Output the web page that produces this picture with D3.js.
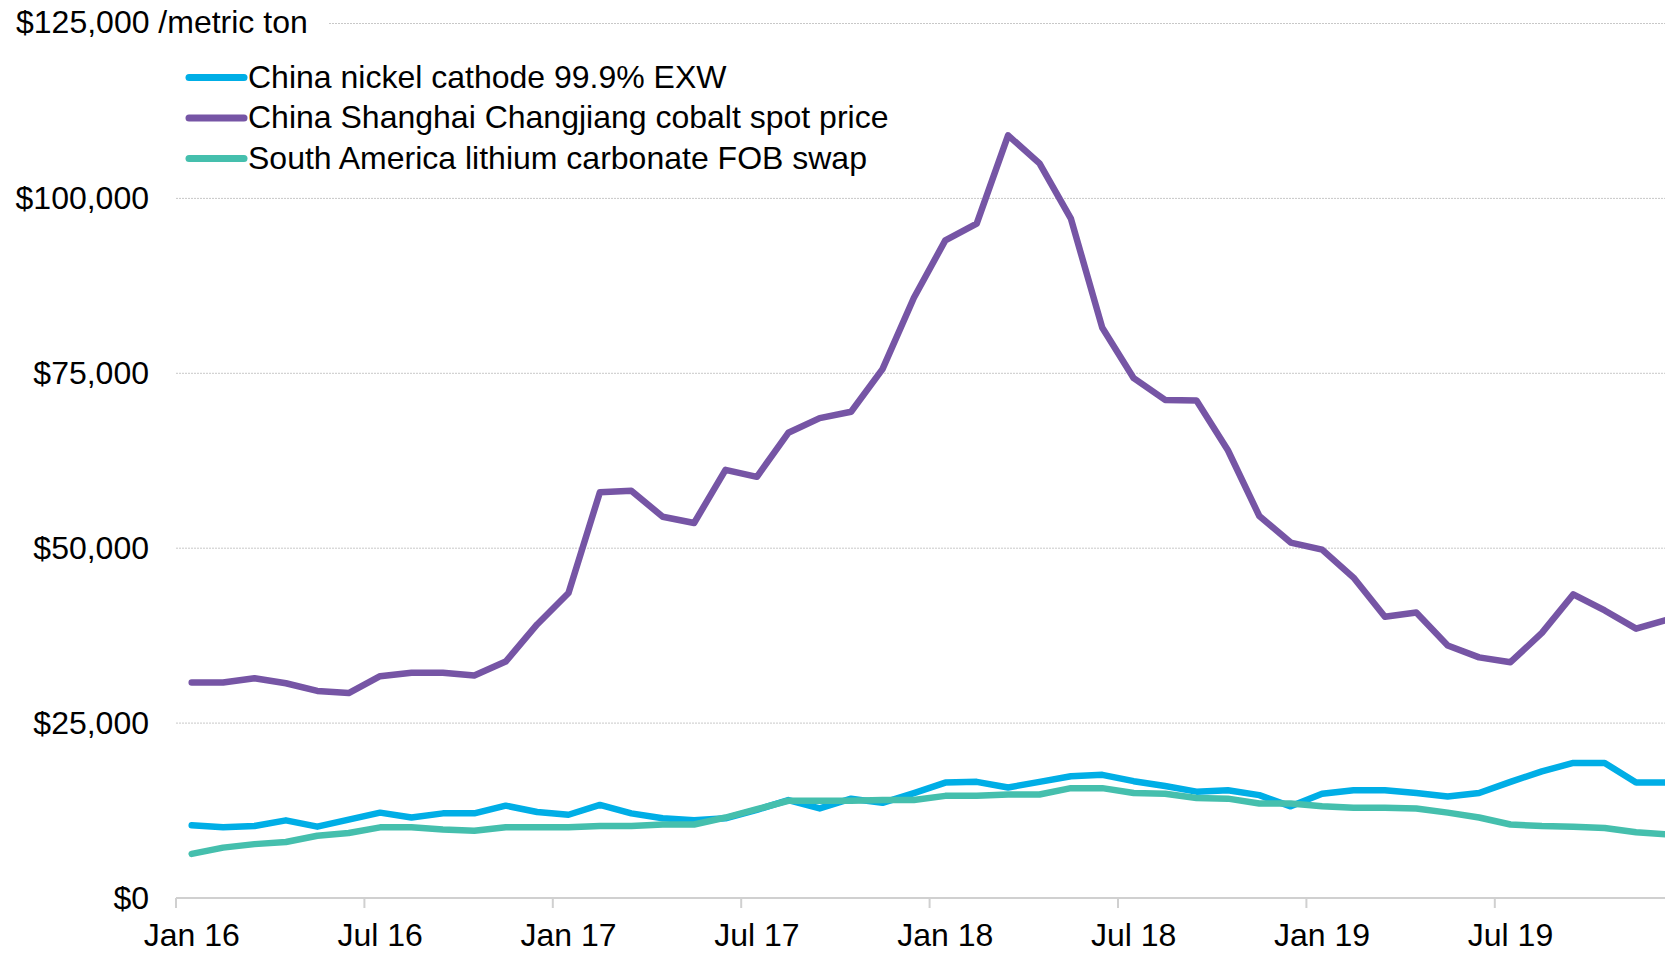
<!DOCTYPE html>
<html>
<head>
<meta charset="utf-8">
<script src="https://cdn.jsdelivr.net/npm/d3@7"></script>
<style>
  html, body { margin: 0; padding: 0; background: #ffffff; }
  svg { display: block; font-family: "Liberation Sans", Arial, sans-serif; }
</style>
</head>
<body>
<svg id="chart" width="1665" height="953"></svg>
<script>
// Monthly battery-metal prices, Jan 2016 – Dec 2019 (US$ per metric ton)
const months = [
  "Jan 16","Feb 16","Mar 16","Apr 16","May 16","Jun 16","Jul 16","Aug 16","Sep 16","Oct 16","Nov 16","Dec 16",
  "Jan 17","Feb 17","Mar 17","Apr 17","May 17","Jun 17","Jul 17","Aug 17","Sep 17","Oct 17","Nov 17","Dec 17",
  "Jan 18","Feb 18","Mar 18","Apr 18","May 18","Jun 18","Jul 18","Aug 18","Sep 18","Oct 18","Nov 18","Dec 18",
  "Jan 19","Feb 19","Mar 19","Apr 19","May 19","Jun 19","Jul 19","Aug 19","Sep 19","Oct 19","Nov 19","Dec 19"
];

const nickel = [
  10400,10100,10300,11100,10200,11200,12200,11500,12100,12100,13200,12300,
  11900,13300,12100,11400,11100,11400,12600,14000,12800,14200,13600,15000,
  16500,16600,15800,16600,17400,17600,16700,16000,15200,15400,14700,13100,
  14900,15400,15400,15000,14500,15000,16600,18100,19300,19300,16500,16500
];

const cobalt = [
  30800,30800,31400,30700,29600,29300,31700,32200,32200,31800,33800,39100,
  43600,58000,58200,54500,53600,61200,60200,66500,68600,69500,75600,85800,
  94000,96400,109000,105000,97100,81500,74300,71200,71100,64000,54600,50800,
  49800,45800,40200,40800,36100,34400,33700,37900,43400,41100,38500,39800
];

const lithium = [
  6300,7200,7700,8000,8900,9300,10100,10100,9800,9600,10100,10100,
  10100,10300,10300,10500,10500,11500,12700,13900,13900,13900,14000,14000,
  14600,14600,14800,14800,15700,15700,15000,14900,14300,14200,13500,13500,
  13100,12900,12900,12800,12200,11500,10500,10300,10200,10000,9400,9100
];

const seriesNames = [
  "China nickel cathode 99.9% EXW",
  "China Shanghai Changjiang cobalt spot price",
  "South America lithium carbonate FOB swap"
];
const seriesColors = ["#00AEE6", "#7655A5", "#45BFAD"];

const yTicks = [0, 25000, 50000, 75000, 100000];
const yTopLabel = "$125,000 /metric ton";
const xTickLabels = ["Jan 16","Jul 16","Jan 17","Jul 17","Jan 18","Jul 18","Jan 19","Jul 19"];

const series = seriesNames.map((name, i) => ({
  name,
  color: seriesColors[i],
  values: [nickel, cobalt, lithium][i]
}));

const W = 1665, H = 953;
const svg = d3.select("#chart");

// Category axis: one band per month, points sit in the middle of each band
const x = d3.scaleBand()
  .domain(months)
  .range([176, 176 + months.length * 31.4])
  .paddingInner(0).paddingOuter(0);
const xc = m => x(m) + x.bandwidth() / 2;

const y = d3.scaleLinear().domain([0, 125000]).range([898, 23.5]);

const fontSize = 32;
const fmt = v => "$" + d3.format(",")(v);

// Horizontal dotted gridlines
const grid = svg.append("g");
grid.selectAll("line.g")
  .data(yTicks.filter(v => v > 0))
  .join("line")
  .attr("x1", 176).attr("x2", W)
  .attr("y1", d => y(d)).attr("y2", d => y(d))
  .attr("stroke", "#c8c8c8").attr("stroke-width", 1)
  .attr("stroke-dasharray", "2,1");
grid.append("line")
  .attr("x1", 329).attr("x2", W)
  .attr("y1", y(125000)).attr("y2", y(125000))
  .attr("stroke", "#c8c8c8").attr("stroke-width", 1)
  .attr("stroke-dasharray", "2,1");

// Y-axis labels
svg.append("g").selectAll("text")
  .data(yTicks)
  .join("text")
  .attr("x", 149)
  .attr("y", d => y(d) + 11)
  .attr("text-anchor", "end")
  .attr("font-size", fontSize)
  .attr("fill", "#000")
  .text(fmt);

svg.append("text")
  .attr("x", 16).attr("y", 33)
  .attr("font-size", fontSize)
  .attr("fill", "#000")
  .text(yTopLabel);

// Bottom axis line with tick marks at half-year category boundaries
const axis = svg.append("g");
axis.append("line")
  .attr("x1", 176).attr("x2", W)
  .attr("y1", y(0)).attr("y2", y(0))
  .attr("stroke", "#d0d0d0").attr("stroke-width", 2);
axis.selectAll("line.t")
  .data(xTickLabels)
  .join("line")
  .attr("class", "t")
  .attr("x1", d => x(d)).attr("x2", d => x(d))
  .attr("y1", y(0)).attr("y2", y(0) + 10)
  .attr("stroke", "#d0d0d0").attr("stroke-width", 2);
axis.selectAll("text")
  .data(xTickLabels)
  .join("text")
  .attr("x", d => xc(d))
  .attr("y", 946)
  .attr("text-anchor", "middle")
  .attr("font-size", fontSize)
  .attr("fill", "#000")
  .text(d => d);

// Price lines
const line = d3.line()
  .x((d, i) => xc(months[i]))
  .y(d => y(d));

svg.append("g").selectAll("path")
  .data(series)
  .join("path")
  .attr("d", s => line(s.values))
  .attr("fill", "none")
  .attr("stroke", s => s.color)
  .attr("stroke-width", 6.5)
  .attr("stroke-linejoin", "round")
  .attr("stroke-linecap", "round");

// Legend
const legend = svg.append("g");
const rowY = [77.5, 118, 158.5];
series.forEach((s, i) => {
  legend.append("line")
    .attr("x1", 189).attr("x2", 244)
    .attr("y1", rowY[i]).attr("y2", rowY[i])
    .attr("stroke", s.color).attr("stroke-width", 7)
    .attr("stroke-linecap", "round");
  legend.append("text")
    .attr("x", 248).attr("y", rowY[i] + 10)
    .attr("font-size", fontSize)
    .attr("fill", "#000")
    .text(s.name);
});
</script>
</body>
</html>
